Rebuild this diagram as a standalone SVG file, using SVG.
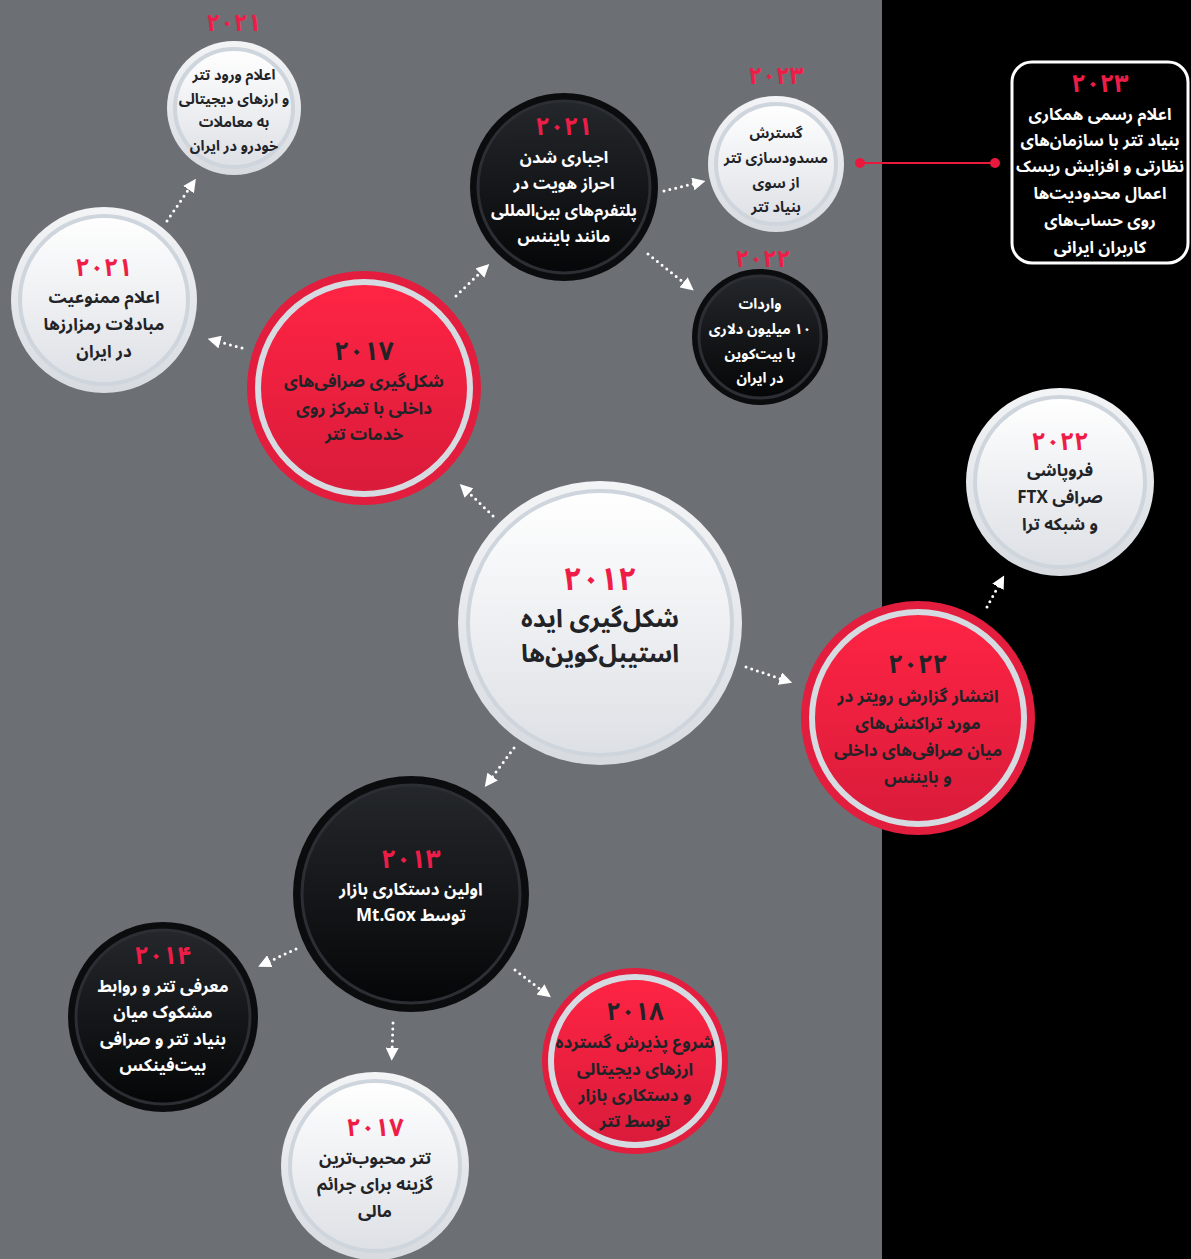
<svg xmlns="http://www.w3.org/2000/svg" width="1191" height="1259" viewBox="0 0 1191 1259">
<defs>
<linearGradient id="gW" x1="0" y1="0" x2="0" y2="1"><stop offset="0" stop-color="#ffffff"/><stop offset="1" stop-color="#dde0e5"/></linearGradient>
<linearGradient id="gWo" x1="0" y1="0" x2="0" y2="1"><stop offset="0" stop-color="#f3f4f6"/><stop offset="1" stop-color="#d7dbe0"/></linearGradient>
<linearGradient id="gR" x1="0" y1="0" x2="0" y2="1"><stop offset="0" stop-color="#ff2444"/><stop offset="1" stop-color="#d91b3a"/></linearGradient>
<linearGradient id="gB" x1="0" y1="0" x2="0" y2="1"><stop offset="0" stop-color="#24272b"/><stop offset="1" stop-color="#050607"/></linearGradient>
<marker id="ah" viewBox="0 0 12 12" refX="4" refY="6" markerWidth="13" markerHeight="13" markerUnits="userSpaceOnUse" orient="auto"><path d="M0,0 L12,6 L0,12 z" fill="#ffffff"/></marker>
</defs>
<style>
.wo{fill:url(#gWo)}
.wi{fill:url(#gW);stroke:#cfd5dd;stroke-width:4}
.ro{fill:#e31d3d}
.ri{fill:url(#gR);stroke:#d6dbe2;stroke-width:6}
.bo{fill:#0b0c0e}
.bi{fill:url(#gB);stroke:#2b2f34;stroke-width:3}
text{font-family:'Noto Sans Arabic','DejaVu Sans',sans-serif;font-weight:bold;text-anchor:middle;direction:rtl}
.yr{fill:#ee1d48}
.yd{fill:#222327}
.td{fill:#222327}
.tw{fill:#ffffff}
.conn{fill:none;stroke:#ffffff;stroke-width:3;stroke-linecap:round;stroke-dasharray:0 6;marker-end:url(#ah)}
</style>
<rect x="0" y="0" width="882" height="1259" fill="#6c7075"/>
<rect x="882" y="0" width="309" height="1259" fill="#000000"/>

<g id="connectors">
<path class="conn" d="M493,516 L466,490"/>
<path class="conn" d="M242,348 L216,341"/>
<path class="conn" d="M167,221 L191,186"/>
<path class="conn" d="M456,296 L483,270"/>
<path class="conn" d="M664,191 L697,183"/>
<path class="conn" d="M648,254 L687,285"/>
<path class="conn" d="M746,667 L784,680"/>
<path class="conn" d="M987,607 L1000,583"/>
<path class="conn" d="M514,748 L490,780"/>
<path class="conn" d="M296,949 L266,963"/>
<path class="conn" d="M515,970 L544,992"/>
<path class="conn" d="M393,1023 L392,1052"/>
<line x1="860" y1="163" x2="995" y2="163" stroke="#e8193c" stroke-width="2"/>
<circle cx="860" cy="163" r="5" fill="#e8193c"/>
<circle cx="995" cy="163" r="5" fill="#e8193c"/>
</g>

<g id="n2012">
<circle cx="600" cy="623" r="142" class="wo"/>
<circle cx="600" cy="623" r="132" class="wi"/>
<text x="600" y="590" font-size="32" class="yr">۲۰۱۲</text>
<text x="600" y="627" font-size="25" class="td">شکل‌گیری ایده</text>
<text x="600" y="662" font-size="25" class="td">استیبل‌کوین‌ها</text>
</g>

<g id="n2017a">
<circle cx="364" cy="388" r="117" class="ro"/>
<circle cx="364" cy="388" r="106" class="ri"/>
<text x="364" y="360" font-size="26" class="yd">۲۰۱۷</text>
<text x="364" y="387" font-size="17" class="td">شکل‌گیری صرافی‌های</text>
<text x="364" y="414" font-size="17" class="td">داخلی با تمرکز روی</text>
<text x="364" y="440" font-size="17" class="td">خدمات تتر</text>
</g>

<g id="n2021a">
<circle cx="104" cy="300" r="93" class="wo"/>
<circle cx="104" cy="300" r="84" class="wi"/>
<text x="104" y="276" font-size="25" class="yr">۲۰۲۱</text>
<text x="104" y="303" font-size="17" class="td">اعلام ممنوعیت</text>
<text x="104" y="330" font-size="17" class="td">مبادلات رمزارزها</text>
<text x="104" y="357" font-size="17" class="td">در ایران</text>
</g>

<g id="n2021b">
<text x="234" y="31" font-size="24" class="yr">۲۰۲۱</text>
<circle cx="234" cy="108" r="67" class="wo"/>
<circle cx="234" cy="108" r="59" class="wi"/>
<text x="234" y="80" font-size="14.5" class="td">اعلام ورود تتر</text>
<text x="234" y="104" font-size="14.5" class="td">و ارزهای دیجیتالی</text>
<text x="234" y="127" font-size="14.5" class="td">به معاملات</text>
<text x="234" y="151" font-size="14.5" class="td">خودرو در ایران</text>
</g>

<g id="n2021c">
<circle cx="564" cy="187" r="94" class="bo"/>
<circle cx="564" cy="187" r="86" class="bi"/>
<text x="564" y="135" font-size="25" class="yr">۲۰۲۱</text>
<text x="564" y="163" font-size="16.5" class="tw">اجباری شدن</text>
<text x="564" y="189" font-size="16.5" class="tw">احراز هویت در</text>
<text x="564" y="216" font-size="16.5" class="tw">پلتفرم‌های بین‌المللی</text>
<text x="564" y="242" font-size="16.5" class="tw">مانند بایننس</text>
</g>

<g id="n2023a">
<text x="776" y="84" font-size="24" class="yr">۲۰۲۳</text>
<circle cx="776" cy="164" r="68" class="wo"/>
<circle cx="776" cy="164" r="60" class="wi"/>
<text x="776" y="138" font-size="14.5" class="td">گسترش</text>
<text x="776" y="163" font-size="14.5" class="td">مسدودسازی تتر</text>
<text x="776" y="188" font-size="14.5" class="td">از سوی</text>
<text x="776" y="212" font-size="14.5" class="td">بنیاد تتر</text>
</g>

<g id="n2022a">
<text x="763" y="267" font-size="24" class="yr">۲۰۲۲</text>
<circle cx="760" cy="337" r="68" class="bo"/>
<circle cx="760" cy="337" r="61" class="bi"/>
<text x="760" y="309" font-size="14.5" class="tw">واردات</text>
<text x="760" y="334" font-size="14.5" class="tw">۱۰ میلیون دلاری</text>
<text x="760" y="359" font-size="14.5" class="tw">با بیت‌کوین</text>
<text x="760" y="383" font-size="14.5" class="tw">در ایران</text>
</g>

<g id="n2023b">
<rect x="1012" y="62" width="176" height="201" rx="20" fill="#000000" stroke="#ffffff" stroke-width="3"/>
<text x="1100" y="92" font-size="25" class="yr">۲۰۲۳</text>
<text x="1100" y="120" font-size="16.5" class="tw">اعلام رسمی همکاری</text>
<text x="1100" y="146" font-size="16.5" class="tw">بنیاد تتر با سازمان‌های</text>
<text x="1100" y="172" font-size="16.5" class="tw">نظارتی و افزایش ریسک</text>
<text x="1100" y="199" font-size="16.5" class="tw">اعمال محدودیت‌ها</text>
<text x="1100" y="226" font-size="16.5" class="tw">روی حساب‌های</text>
<text x="1100" y="253" font-size="16.5" class="tw">کاربران ایرانی</text>
</g>

<g id="n2022b">
<circle cx="1060" cy="482" r="94" class="wo"/>
<circle cx="1060" cy="482" r="85" class="wi"/>
<text x="1060" y="450" font-size="25" class="yr">۲۰۲۲</text>
<text x="1060" y="476" font-size="17" class="td">فروپاشی</text>
<text x="1060" y="503" font-size="17" class="td">صرافی FTX</text>
<text x="1060" y="530" font-size="17" class="td">و شبکه ترا</text>
</g>

<g id="n2022c">
<circle cx="918" cy="718" r="117" class="ro"/>
<circle cx="918" cy="718" r="106" class="ri"/>
<text x="918" y="673" font-size="26" class="yd">۲۰۲۲</text>
<text x="918" y="702" font-size="17" class="td">انتشار گزارش رویتر در</text>
<text x="918" y="729" font-size="17" class="td">مورد تراکنش‌های</text>
<text x="918" y="756" font-size="17" class="td">میان صرافی‌های داخلی</text>
<text x="918" y="783" font-size="17" class="td">و بایننس</text>
</g>

<g id="n2013">
<circle cx="411" cy="894" r="118" class="bo"/>
<circle cx="411" cy="894" r="109" class="bi"/>
<text x="411" y="868" font-size="26" class="yr">۲۰۱۳</text>
<text x="411" y="895" font-size="17" class="tw">اولین دستکاری بازار</text>
<text x="411" y="921" font-size="17" class="tw">توسط Mt.Gox</text>
</g>

<g id="n2014">
<circle cx="163" cy="1017" r="95" class="bo"/>
<circle cx="163" cy="1017" r="87" class="bi"/>
<text x="163" y="964" font-size="25" class="yr">۲۰۱۴</text>
<text x="163" y="992" font-size="17" class="tw">معرفی تتر و روابط</text>
<text x="163" y="1018" font-size="17" class="tw">مشکوک میان</text>
<text x="163" y="1045" font-size="17" class="tw">بنیاد تتر و صرافی</text>
<text x="163" y="1071" font-size="17" class="tw">بیت‌فینکس</text>
</g>

<g id="n2018">
<circle cx="635" cy="1061" r="93" class="ro"/>
<circle cx="635" cy="1061" r="84" class="ri"/>
<text x="635" y="1020" font-size="25" class="yd">۲۰۱۸</text>
<text x="635" y="1048" font-size="17" class="td">شروع پذیرش گسترده</text>
<text x="635" y="1075" font-size="17" class="td">ارزهای دیجیتالی</text>
<text x="635" y="1101" font-size="17" class="td">و دستکاری بازار</text>
<text x="635" y="1127" font-size="17" class="td">توسط تتر</text>
</g>

<g id="n2017b">
<circle cx="375" cy="1166" r="94" class="wo"/>
<circle cx="375" cy="1166" r="85" class="wi"/>
<text x="375" y="1136" font-size="25" class="yr">۲۰۱۷</text>
<text x="375" y="1164" font-size="17" class="td">تتر محبوب‌ترین</text>
<text x="375" y="1190" font-size="17" class="td">گزینه برای جرائم</text>
<text x="375" y="1217" font-size="17" class="td">مالی</text>
</g>
</svg>
